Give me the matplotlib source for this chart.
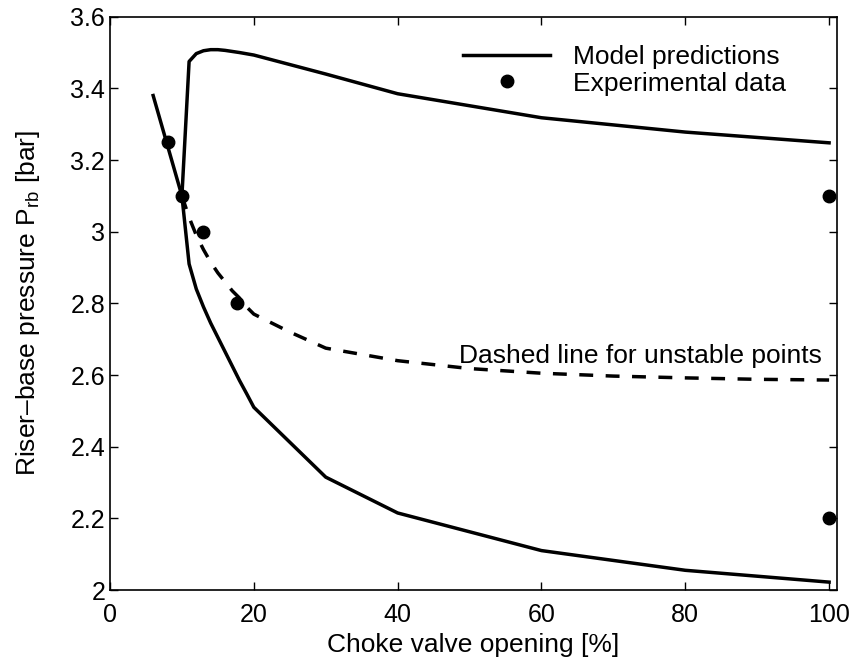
import matplotlib
matplotlib.use("Agg")
import matplotlib.pyplot as plt
from matplotlib.lines import Line2D

plt.rcParams['font.family'] = ['Liberation Sans', 'DejaVu Sans']
plt.rcParams['mathtext.fontset'] = 'custom'
plt.rcParams['mathtext.rm'] = 'Liberation Sans'

# stable branch before the bifurcation
left_x = [6, 10]
left_y = [3.38, 3.1]

# upper (max pressure) branch
upper_x = [10, 11, 12, 13, 14, 15, 16, 18, 20, 30, 40, 60, 80, 100]
upper_y = [3.1, 3.475, 3.497, 3.505, 3.508, 3.508, 3.506, 3.50, 3.493, 3.44, 3.385, 3.318, 3.278, 3.248]

# lower (min pressure) branch
lower_x = [10, 11, 12, 13, 14, 15, 16, 17, 18, 19, 20, 30, 40, 60, 80, 100]
lower_y = [3.1, 2.91, 2.84, 2.79, 2.745, 2.705, 2.665, 2.625, 2.585, 2.548, 2.51,
           2.315, 2.215, 2.11, 2.055, 2.022]

# unstable steady state
unst_x = [10, 11, 12, 13, 14, 15, 16, 17, 18, 19, 20, 25, 30, 40, 50, 60, 70, 80, 90, 100]
unst_y = [3.1, 3.04, 2.99, 2.95, 2.915, 2.885, 2.86, 2.835, 2.815, 2.79, 2.77, 2.72,
          2.675, 2.64, 2.618, 2.605, 2.597, 2.592, 2.588, 2.586]

# experimental points
exp_x = [8, 10, 13, 17.6, 100, 100]
exp_y = [3.25, 3.1, 3.0, 2.8, 3.1, 2.2]

yticks = [2, 2.2, 2.4, 2.6, 2.8, 3, 3.2, 3.4, 3.6]
ytick_labels = ['2', '2.2', '2.4', '2.6', '2.8', '3', '3.2', '3.4', '3.6']
xticks = [0, 20, 40, 60, 80, 100]

fs = 19
lw = 2.5

fig = plt.figure(figsize=(8.55, 6.66), dpi=100)
ax = fig.add_axes([110/855, 76/666, 727/855, 573.3/666])

ax.plot(left_x, left_y, 'k-', lw=lw)
ax.plot(upper_x, upper_y, 'k-', lw=lw)
ax.plot(lower_x, lower_y, 'k-', lw=lw)
ax.plot(unst_x, unst_y, 'k', lw=lw, dashes=(4, 3.6))
ax.plot(exp_x, exp_y, 'ko', ms=9, ls='none')

ax.set_xlim(0, 101.1)
ax.set_ylim(2, 3.6)
ax.set_xticks(xticks)
ax.set_xticklabels([str(t) for t in xticks])
ax.set_yticks(yticks)
ax.set_yticklabels(ytick_labels)
ax.tick_params(direction='in', top=True, right=True, length=6, width=1, labelsize=fs - 1)
ax.tick_params(axis='x', pad=9)
for s in ax.spines.values():
    s.set_linewidth(1.2)

ax.set_xlabel('Choke valve opening [%]', fontsize=fs, labelpad=5)
ax.set_ylabel('Riser\u2013base pressure P$_\\mathregular{rb}$ [bar]', fontsize=fs, labelpad=20)

ax.text(99, 2.634, 'Dashed line for unstable points', fontsize=fs, ha='right', va='baseline')

handles = [Line2D([], [], color='k', lw=lw),
           Line2D([], [], color='k', marker='o', ls='none', ms=9)]
ax.legend(handles, ['Model predictions', 'Experimental data'], loc='upper left',
          bbox_to_anchor=(463/855, (666 - 45)/666), bbox_transform=fig.transFigure,
          frameon=False, fontsize=fs, handlelength=3.3, handletextpad=0.85,
          borderpad=0, borderaxespad=0, labelspacing=0.1, numpoints=1)

fig.savefig('out.png', dpi=100)
